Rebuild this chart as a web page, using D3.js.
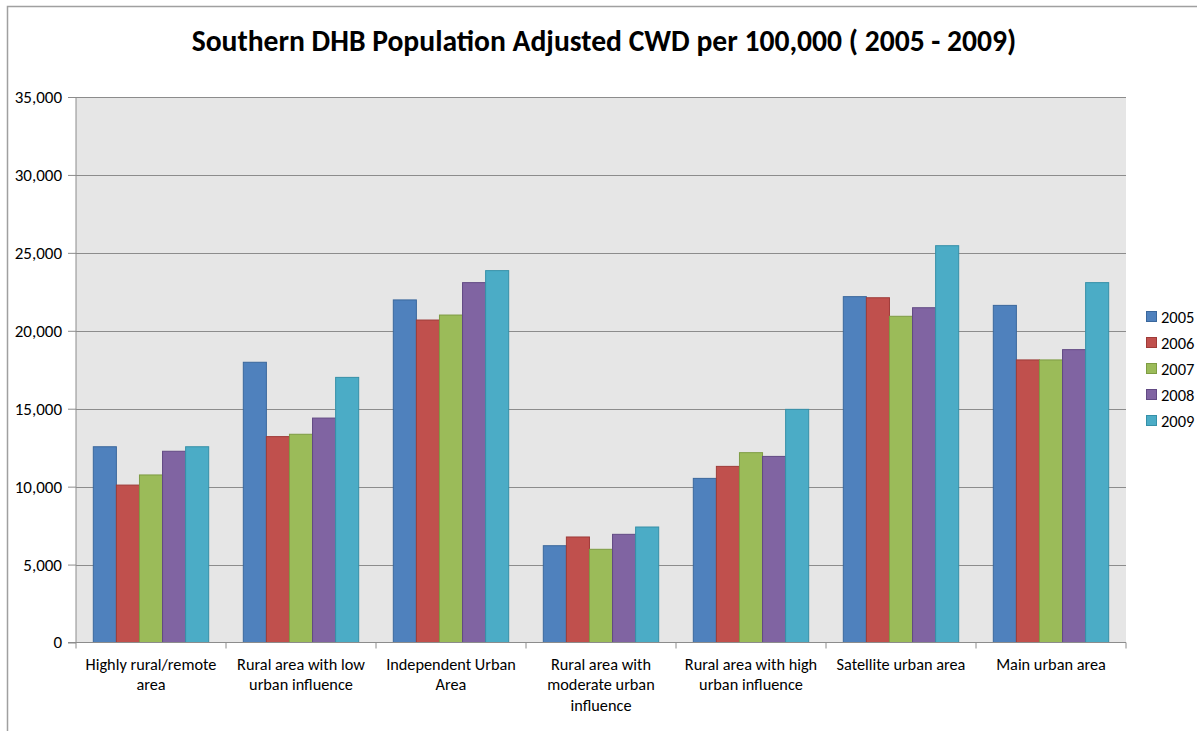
<!DOCTYPE html>
<html><head><meta charset="utf-8">
<script src="https://cdnjs.cloudflare.com/ajax/libs/d3/7.8.5/d3.min.js"></script>
<style>body{margin:0;background:#fff}svg{display:block}</style>
</head><body><svg id="c" width="1197" height="731"></svg>
<script>
const categories = [
  ["Highly rural/remote","area"],
  ["Rural area with  low","urban influence"],
  ["Independent Urban","Area"],
  ["Rural area with","moderate urban","influence"],
  ["Rural area with  high","urban influence"],
  ["Satellite urban area"],
  ["Main urban area"]
];
const years = ["2005","2006","2007","2008","2009"];
const v2005 = [12560, 17980, 21980, 6210, 10530, 22190, 21630];
const v2006 = [10100, 13210, 20690, 6770, 11300, 22120, 18130];
const v2007 = [10750, 13360, 21010, 5980, 12180, 20930, 18130];
const v2008 = [12270, 14400, 23090, 6940, 11940, 21480, 18790];
const v2009 = [12560, 17010, 23860, 7410, 14960, 25460, 23090];
const series = [v2005, v2006, v2007, v2008, v2009];
const yTicks = [0,5000,10000,15000,20000,25000,30000,35000];
const colors = ["#4F81BD","#C0504D","#9BBB59","#8064A2","#4BACC6"];
const strokes = ["#3A679C","#9E3B38","#7E9C43","#624A84","#3690A8"];

const svg = d3.select("#c");
const font = "Carlito, Lato, 'Open Sans', sans-serif";
svg.append("rect").attr("x",7.5).attr("y",6.5).attr("width",1200).attr("height",740)
  .attr("fill","none").attr("stroke","#a0a0a0").attr("stroke-width",1.5);

const L=76, R=1126, T=97, B=642.5;
const y = d3.scaleLinear().domain([0,35000]).range([B,T]);
const x0 = d3.scaleBand().domain(d3.range(categories.length)).range([L,R]).paddingInner(0).paddingOuter(0);
const bw = x0.bandwidth()/6.5;

svg.append("rect").attr("x",L).attr("y",T).attr("width",R-L).attr("height",B-T).attr("fill","#e6e6e6");

svg.append("g").selectAll("line").data(yTicks.slice(1)).join("line")
  .attr("x1",L).attr("x2",R).attr("y1",d=>Math.round(y(d))+0.5).attr("y2",d=>Math.round(y(d))+0.5)
  .attr("stroke","#8c8c8c").attr("stroke-width",1);

series.forEach((s,si)=>{
  svg.append("g").selectAll("rect").data(s).join("rect")
    .attr("x",(d,i)=>x0(i)+bw*0.75+si*bw)
    .attr("y",d=>y(d))
    .attr("width",bw)
    .attr("height",d=>B-y(d))
    .attr("fill",colors[si]).attr("stroke",strokes[si]).attr("stroke-width",1);
});

const ya = d3.axisLeft(y).tickValues(yTicks).tickSize(8).tickFormat(d3.format(","));
const gy = svg.append("g").attr("transform",`translate(${L},0)`).call(ya);
gy.select(".domain").attr("stroke","#8c8c8c").attr("d",`M0,${T}V${B}`);
gy.selectAll(".tick line").attr("stroke","#8c8c8c");
gy.selectAll(".tick text").attr("x",-14).attr("font-family",font).attr("font-size",17).attr("fill","#000");

const gx = svg.append("g");
gx.append("line").attr("x1",L-8).attr("x2",R).attr("y1",B).attr("y2",B).attr("stroke","#8c8c8c");
gx.selectAll("line.t").data(d3.range(categories.length+1)).join("line").attr("class","t")
  .attr("x1",i=>L+i*x0.step()).attr("x2",i=>L+i*x0.step()).attr("y1",B).attr("y2",B+6).attr("stroke","#8c8c8c");
categories.forEach((lines,i)=>{
  const t = gx.append("text").attr("text-anchor","middle").attr("font-family",font).attr("font-size",16.3).attr("fill","#000");
  lines.forEach((ln,j)=>t.append("tspan").attr("x",x0(i)+x0.bandwidth()/2).attr("y",670+j*20.3).text(ln));
});

const lg = svg.append("g");
years.forEach((yr,i)=>{
  const cy = 317+i*26;
  lg.append("rect").attr("x",1146.5).attr("y",cy-5.5).attr("width",10).attr("height",10)
    .attr("fill",colors[i]).attr("stroke",strokes[i]);
  lg.append("text").attr("x",1161).attr("y",cy+6).attr("font-family",font).attr("font-size",16.5).attr("fill","#000").text(yr);
});

svg.append("text").attr("x",604).attr("y",51).attr("text-anchor","middle")
  .attr("font-family",font).attr("font-weight","bold").attr("font-size",29.6).attr("fill","#000")
  .text("Southern DHB Population Adjusted CWD per 100,000 ( 2005 - 2009)");
</script></body></html>
